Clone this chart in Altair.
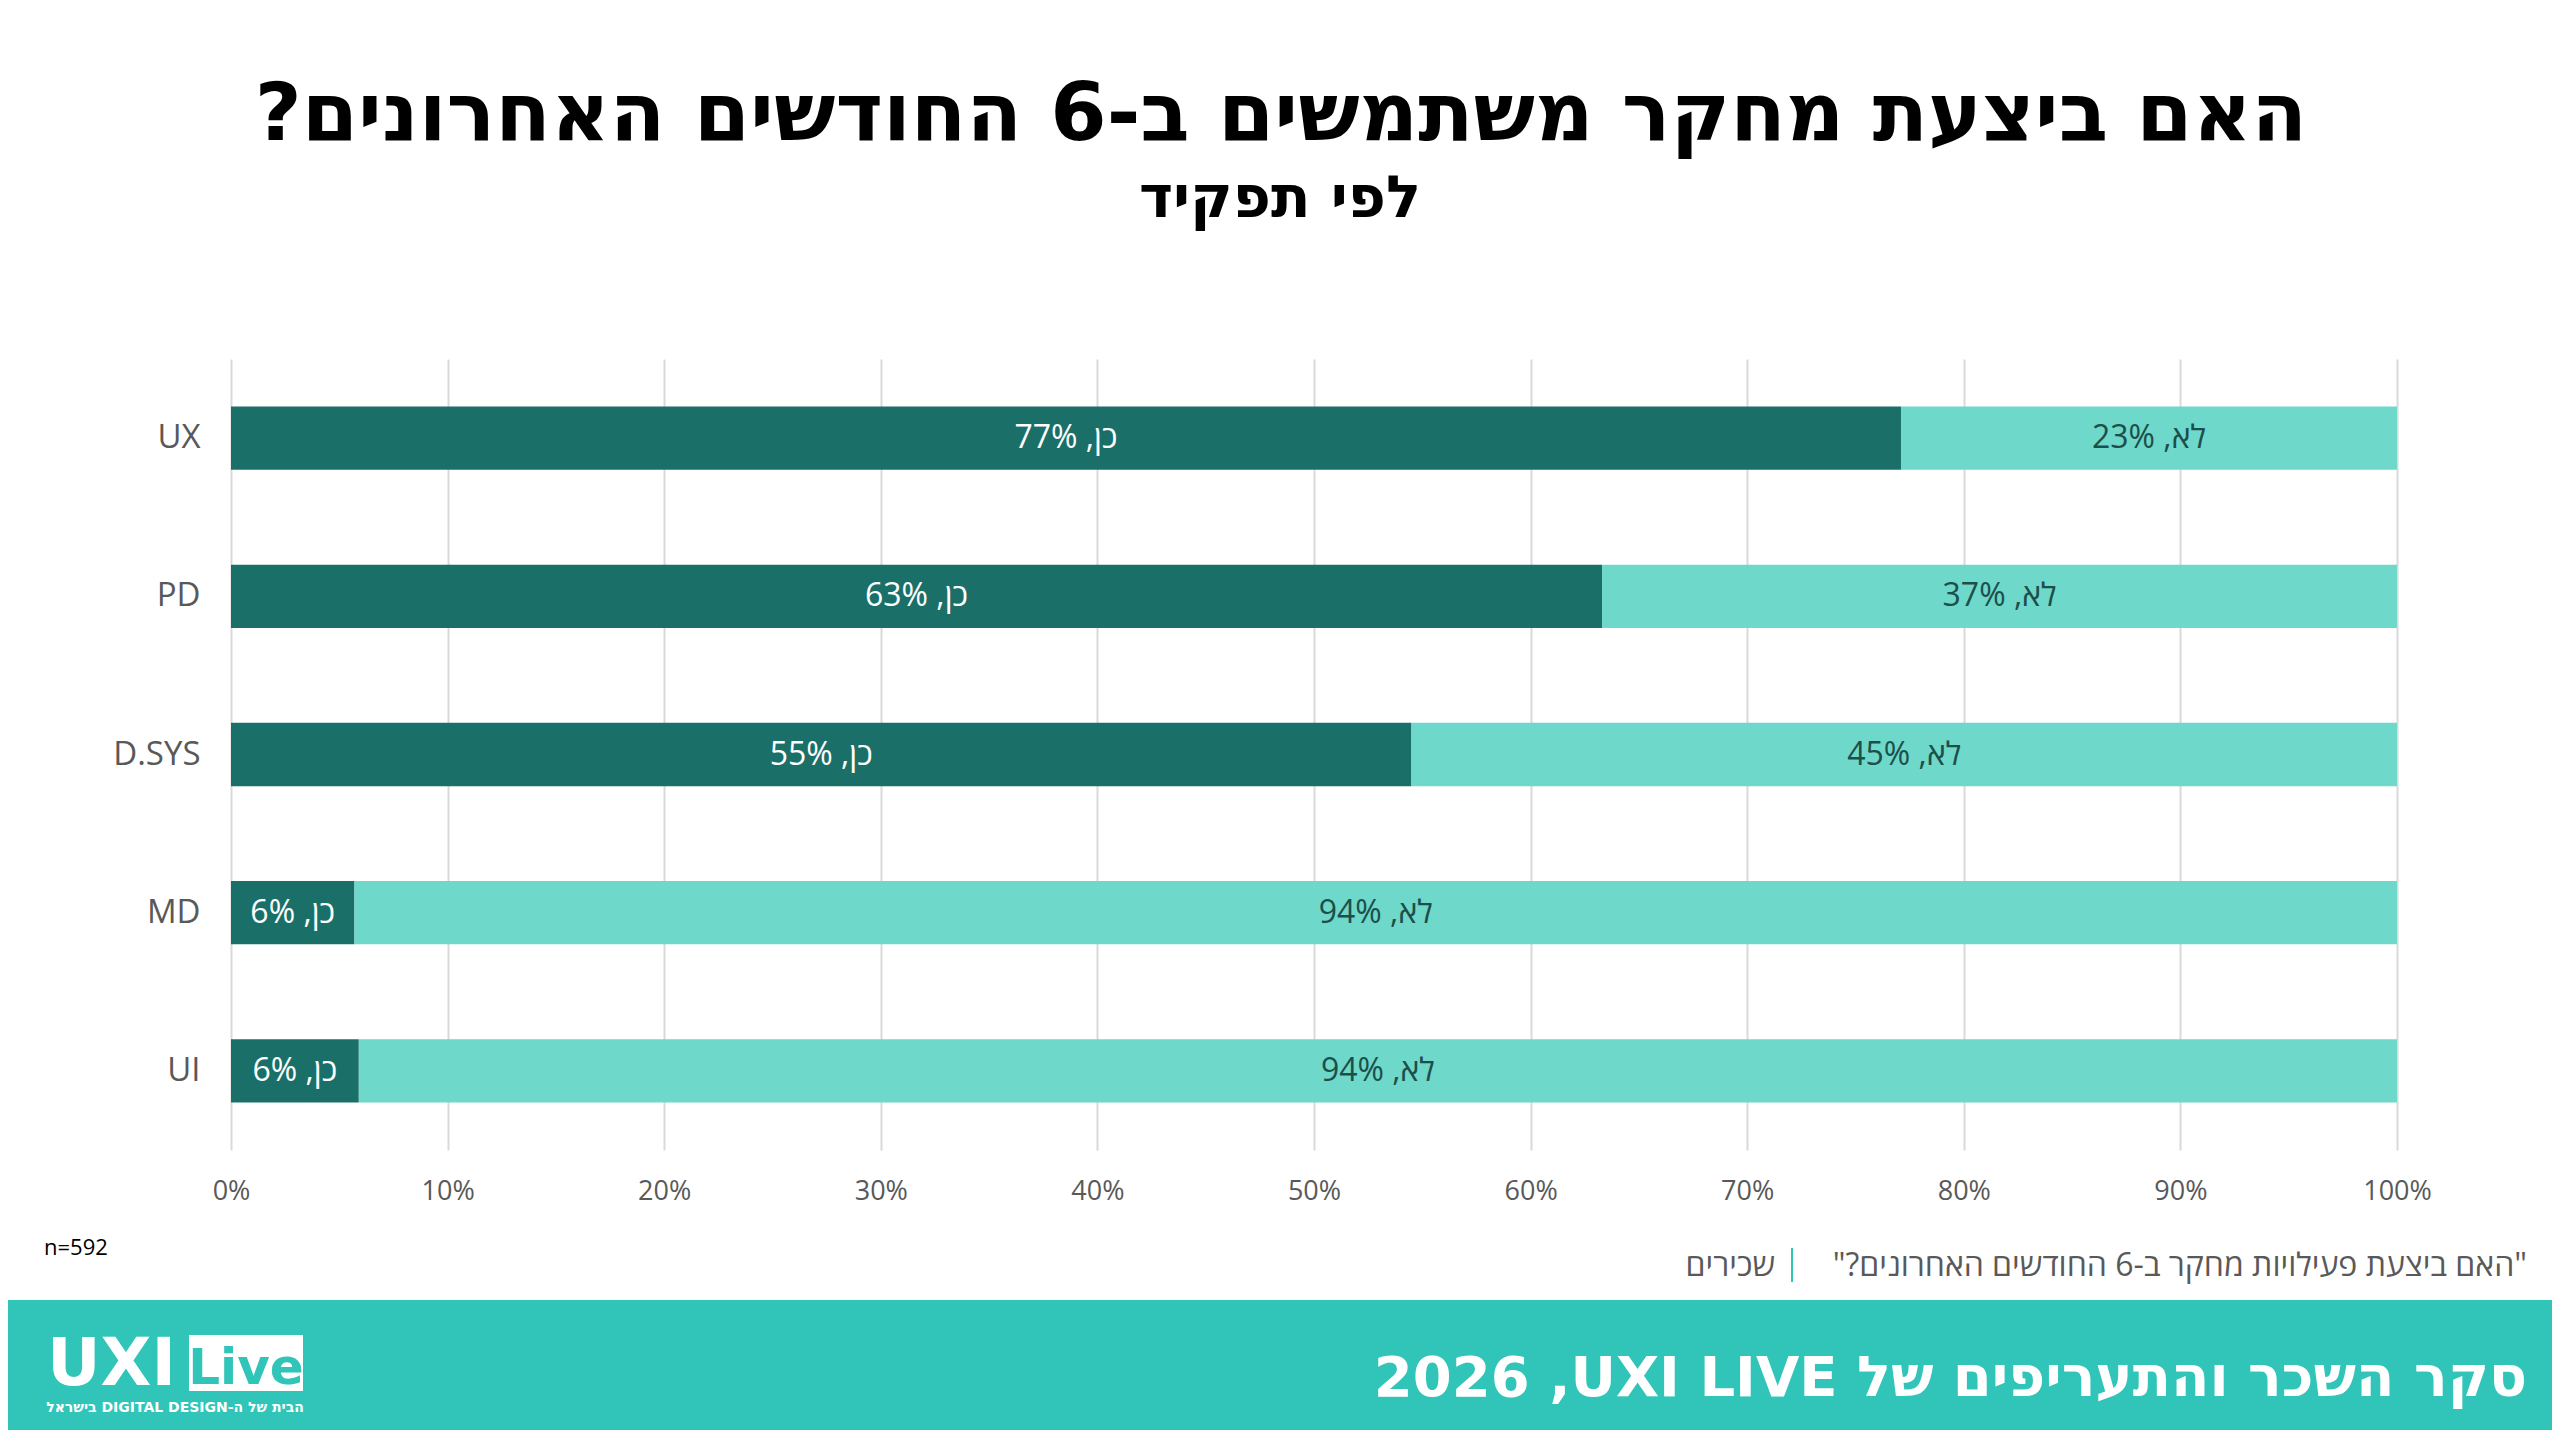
import altair as alt
import pandas as pd

roles = ["UX", "PD", "D.SYS", "MD", "UI"]
yes_pct = [77.1, 63.3, 54.5, 5.7, 5.9]
no_pct = [22.9, 36.7, 45.5, 94.3, 94.1]
yes_labels = ["77%", "63%", "55%", "6%", "6%"]
no_labels = ["23%", "37%", "45%", "94%", "94%"]
x_ticks = [0, 10, 20, 30, 40, 50, 60, 70, 80, 90, 100]

RLE, PDF, RLM = "\u202b", "\u202c", "\u200f"
title_text = RLE + "האם ביצעת מחקר משתמשים ב-6 החודשים האחרונים?" + PDF
subtitle_text = RLE + "לפי תפקיד" + PDF
source_text = RLE + "\"האם ביצעת פעילויות מחקר ב-6 החודשים האחרונים?\"" + PDF
source_group = "שכירים"
n_text = "n=592"
footer_text = RLE + "סקר השכר והתעריפים של UXI LIVE" + RLM + ", 2026" + PDF
tagline_text = RLE + "הבית של ה-DIGITAL DESIGN בישראל" + PDF

DARK = "#1A7068"
LIGHT = "#6ED8CA"
BAND = "#30C5B8"
GRAY = "#595959"
LABEL_FONT = "Open Sans"
TITLE_FONT = "DejaVu Sans"

rows = []
for i, r in enumerate(roles):
    rows.append({"role": r, "answer": "yes", "order": 0, "value": yes_pct[i],
                 "label": RLE + "כן, " + yes_labels[i] + PDF, "tcolor": "#FFFFFF"})
    rows.append({"role": r, "answer": "no", "order": 1, "value": no_pct[i],
                 "label": RLE + "לא, " + no_labels[i] + PDF, "tcolor": "#1C4F4A"})
df = pd.DataFrame(rows)

one = pd.DataFrame({"a": [0]})

base = alt.Chart(df).transform_stack(
    stack="value", groupby=["role"], as_=["x0", "x1"],
    sort=[alt.SortField("order", order="ascending")]
).transform_calculate(mid="(datum.x0 + datum.x1) / 2")

yenc = alt.Y("role:N", sort=roles, title=None,
             scale=alt.Scale(paddingInner=0.6, paddingOuter=0.3),
             axis=alt.Axis(labelFontSize=33, labelColor=GRAY, labelFont=LABEL_FONT,
                           labelPadding=31, ticks=False, domain=False, grid=False))

bars = base.mark_bar().encode(
    x=alt.X("x0:Q", title=None, scale=alt.Scale(domain=[0, 100], nice=False),
            axis=alt.Axis(values=x_ticks, labelExpr="datum.value + '%'",
                          labelFontSize=27, labelColor=GRAY, labelFont=LABEL_FONT,
                          labelPadding=28, labelFlush=False, ticks=False, domain=False,
                          grid=True, gridColor="#D9D9D9", gridWidth=2)),
    x2="x1:Q",
    y=yenc,
    color=alt.Color("answer:N", scale=alt.Scale(domain=["yes", "no"], range=[DARK, LIGHT]),
                    legend=None),
)

labels = base.mark_text(fontSize=32, font=LABEL_FONT, baseline="middle", align="center").encode(
    x="mid:Q",
    y=alt.Y("role:N", sort=roles),
    text="label:N",
    color=alt.Color("tcolor:N", scale=None),
)

def txt(text, x, y, size, color, weight="normal", align="center", font=LABEL_FONT, baseline="alphabetic"):
    return alt.Chart(one).mark_text(
        text=text, fontSize=size, color=color, fontWeight=weight, align=align,
        font=font, baseline=baseline
    ).encode(x=alt.value(x), y=alt.value(y))

band = alt.Chart(one).mark_rect(color=BAND).encode(
    x=alt.value(-240), x2=alt.value(2330), y=alt.value(941), y2=alt.value(1100))

live_box = alt.Chart(one).mark_rect(color="white").encode(
    x=alt.value(-42), x2=alt.value(72), y=alt.value(976), y2=alt.value(1032))

sep = alt.Chart(one).mark_rule(color=BAND, strokeWidth=2).encode(
    x=alt.value(1561), y=alt.value(889), y2=alt.value(923))

layers = [
    band,
    bars,
    labels,
    txt(title_text, 1050, -219, 81, "#000000", weight="bold", font=TITLE_FONT),
    txt(subtitle_text, 1049, -142, 58, "#000000", weight="bold", font=TITLE_FONT),
    txt(source_text, 2296, 917, 32, GRAY, align="right"),
    txt(source_group, 1544, 917, 32, GRAY, align="right"),
    sep,
    txt(n_text, -187, 896, 22, "#000000", align="left"),
    txt(footer_text, 2296, 1037, 56, "#FFFFFF", weight="bold", align="right", font=TITLE_FONT),
    txt("UXI", -184, 1026, 66, "#FFFFFF", weight="bold", align="left", font=TITLE_FONT),
    live_box,
    txt("Live", 15, 1025, 50, BAND, weight="bold", font=TITLE_FONT),
    txt(tagline_text, -56, 1053, 14, "#FFFFFF", weight="bold", font=TITLE_FONT),
]

chart = alt.layer(*layers).properties(
    width=2166, height=791,
    padding={"left": 223, "top": 351, "right": 155, "bottom": 280},
    autosize=alt.AutoSizeParams(type="none"),
    background="white",
).configure_view(stroke=None)

chart.save("out.html", embed_options={"renderer": "svg", "actions": False})
